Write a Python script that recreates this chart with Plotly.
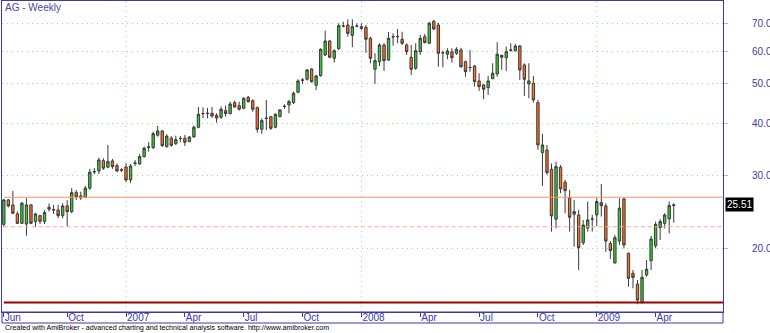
import math
import pandas as pd
import plotly.graph_objects as go

# ---------------- data (weekly bars, AG) ----------------
first_week = "2006-06-30"
n_weeks = 149

opens = [22.90, 26.23, 25.51, 24.27, 23.03, 22.94, 25.51, 23.25, 24.04, 23.28,
         25.19, 24.88, 24.81, 24.04, 25.37, 24.58, 27.31, 26.82, 26.60, 28.00,
         30.73, 30.82, 32.63, 31.46, 32.58, 31.74, 30.99, 31.50, 29.31, 32.12,
         32.04, 33.37, 35.11, 35.07, 37.58, 38.48, 35.27, 36.96, 35.86, 36.92,
         36.96, 36.27, 37.22, 39.28, 42.36, 42.36, 42.46, 41.99, 41.52, 43.08,
         42.36, 45.03, 44.29, 43.65, 46.41, 45.54, 43.80, 38.85, 41.24, 41.67,
         39.28, 41.67, 44.09, 44.46, 45.04, 47.71, 51.09, 51.29, 54.31, 49.61,
         52.32, 58.70, 63.44, 57.63, 60.79, 68.96, 69.34, 65.48, 68.96, 68.68,
         68.45, 64.40, 54.22, 56.55, 62.05, 57.09, 64.98, 64.98, 64.05, 62.05,
         57.95, 54.52, 59.78, 64.98, 62.65, 70.79, 69.34, 59.46, 58.93, 59.78,
         59.26, 60.35, 56.55, 54.80, 55.22, 50.81, 49.69, 48.94, 51.46, 52.82,
         58.60, 57.82, 60.35, 60.11, 61.70, 55.53, 49.97, 50.16, 45.04, 34.12,
         34.63, 31.11, 23.56, 31.46, 28.94, 26.57, 24.23, 24.13, 20.67, 22.43,
         23.60, 24.13, 25.84, 25.37, 20.60, 18.48, 20.87, 26.38, 19.50, 17.45,
         16.44, 14.82, 17.28, 18.71, 20.34, 22.50, 23.03, 23.60, 25.41]

highs = [26.38, 26.38, 27.58, 24.61, 25.95, 26.48, 25.65, 24.40, 24.13, 24.81,
         25.75, 25.51, 25.51, 25.75, 26.23, 28.00, 27.73, 27.47, 28.35, 31.16,
         31.29, 33.18, 33.07, 35.60, 32.94, 32.12, 31.29, 32.20, 32.04, 32.76,
         33.81, 35.27, 36.14, 38.34, 39.57, 38.70, 37.79, 37.37, 37.50, 37.43,
         37.64, 37.37, 39.63, 43.96, 43.86, 43.71, 43.96, 42.46, 44.09, 44.29,
         45.29, 45.54, 45.29, 46.41, 46.74, 45.89, 44.09, 41.29, 45.72, 41.83,
         42.46, 43.42, 44.63, 45.72, 47.88, 51.29, 51.58, 54.31, 54.52, 52.53,
         60.93, 67.18, 63.80, 60.59, 70.00, 70.62, 71.54, 71.54, 70.00, 70.00,
         69.34, 64.98, 59.26, 62.65, 62.65, 66.71, 66.20, 67.82, 66.80, 62.65,
         62.05, 62.65, 65.59, 65.96, 70.62, 71.30, 70.23, 60.11, 60.93, 60.93,
         61.28, 61.04, 56.87, 60.35, 55.53, 53.03, 49.97, 52.24, 56.06, 63.00,
         58.70, 61.48, 62.65, 62.40, 62.05, 56.06, 56.06, 52.24, 45.72, 37.86,
         35.60, 32.12, 32.45, 31.86, 29.31, 27.73, 26.23, 24.81, 23.47, 25.99,
         24.13, 26.48, 28.67, 25.75, 20.87, 21.58, 26.48, 26.48, 19.57, 17.77,
         16.81, 17.77, 18.78, 21.46, 23.25, 23.56, 24.36, 25.99, 25.75]

lows = [22.60, 25.16, 24.23, 22.94, 22.94, 21.50, 22.94, 22.52, 22.94, 22.94,
        24.58, 24.27, 23.69, 23.69, 22.60, 24.36, 26.23, 26.23, 26.48, 27.73,
        30.31, 30.31, 30.99, 31.29, 31.16, 30.60, 30.65, 28.99, 28.83, 31.68,
        31.86, 33.18, 34.30, 34.82, 37.29, 35.21, 35.07, 35.27, 35.60, 36.14,
        35.40, 36.14, 37.08, 39.06, 41.29, 41.29, 41.43, 40.30, 41.13, 41.67,
        42.22, 43.80, 43.08, 43.42, 45.04, 42.84, 38.13, 37.86, 38.70, 38.70,
        39.06, 41.52, 43.49, 42.46, 44.71, 47.45, 49.97, 50.89, 50.33, 48.33,
        52.03, 58.37, 57.63, 56.26, 60.35, 68.45, 64.98, 61.28, 68.45, 67.44,
        59.40, 56.06, 50.00, 55.22, 53.71, 56.77, 61.81, 62.65, 62.05, 58.70,
        52.53, 54.01, 58.70, 62.65, 62.40, 67.44, 55.00, 54.80, 57.31, 56.26,
        58.70, 54.62, 52.03, 53.50, 49.22, 48.06, 45.90, 47.00, 51.29, 52.03,
        54.01, 53.71, 59.78, 59.78, 51.09, 46.74, 46.15, 45.04, 34.63, 28.35,
        30.14, 21.99, 22.40, 27.23, 24.36, 21.99, 20.22, 17.77, 20.42, 21.99,
        21.99, 22.69, 23.91, 19.67, 18.91, 18.43, 20.42, 20.04, 16.20, 16.05,
        14.69, 14.76, 17.12, 17.77, 20.04, 20.99, 22.40, 21.79, 23.12]

closes = [26.23, 25.37, 24.36, 23.03, 25.75, 25.51, 23.03, 24.27, 23.30, 24.47,
          24.91, 24.81, 24.04, 25.37, 24.58, 27.31, 26.67, 26.53, 28.00, 30.60,
          30.65, 32.76, 31.29, 32.45, 31.56, 30.82, 30.94, 29.31, 31.68, 32.21,
          33.37, 34.96, 35.21, 37.91, 38.48, 35.46, 37.37, 35.54, 36.67, 36.88,
          36.14, 37.22, 39.28, 42.22, 42.41, 42.46, 41.83, 41.36, 43.42, 42.36,
          44.71, 43.96, 43.42, 46.15, 45.29, 43.42, 38.85, 40.75, 41.29, 39.06,
          42.22, 43.25, 44.14, 45.29, 47.45, 50.81, 51.03, 54.01, 50.61, 52.24,
          60.59, 63.44, 57.95, 60.11, 69.07, 68.88, 66.20, 68.68, 68.88, 68.08,
          64.05, 57.63, 56.87, 62.05, 56.87, 64.40, 64.91, 65.05, 62.65, 59.78,
          54.22, 60.11, 64.40, 62.86, 70.00, 67.82, 59.26, 59.40, 60.01, 57.82,
          60.59, 55.00, 53.50, 54.74, 50.61, 49.22, 48.52, 50.81, 53.03, 58.93,
          57.95, 59.78, 60.28, 61.70, 54.01, 51.29, 50.81, 45.72, 35.60, 35.60,
          30.53, 23.99, 31.56, 27.89, 27.62, 23.82, 24.58, 20.11, 22.81, 23.47,
          23.57, 25.99, 25.41, 20.87, 19.78, 21.26, 25.05, 20.42, 16.97, 17.06,
          15.04, 17.06, 17.84, 21.11, 22.90, 23.25, 24.13, 25.41, 25.51]

# horizontal study lines
resistance_level = 26.62
support_level = 22.60
floor_level = 14.83
last_price_label = "25.51"

# axis ticks
x_tick_dates = ["2006-06-30", "2006-10-06", "2007-01-05", "2007-04-06", "2007-07-06",
                "2007-10-05", "2008-01-04", "2008-04-04", "2008-07-04", "2008-10-03",
                "2009-01-02", "2009-04-03"]
x_tick_labels = ["Jun", "Oct", "2007", "Apr", "Jul", "Oct", "2008", "Apr", "Jul", "Oct",
                 "2009", "Apr"]
year_dates = ["2007-01-05", "2008-01-04", "2009-01-02"]
y_tick_vals = [20, 30, 40, 50, 60, 70]
y_tick_labels = ["20.0", "30.0", "40.0", "50.0", "60.0", "70.0"]

# ---------------- styling ----------------
BLUE = "#3b3ba8"
GRID = "#8fdc8f"
GREEN = "#33cc33"
ORANGE = "#ff6a22"
EDGE = "#3a3a3a"
FONT = "Liberation Sans, Arial, sans-serif"

x_start = "2006-06-27 05:00"
x_end = "2009-07-16 05:00"

dates = pd.date_range(first_week, periods=n_weeks, freq="W-FRI")

fig = go.Figure()

fig.add_trace(go.Candlestick(
    x=dates, open=opens, high=highs, low=lows, close=closes,
    increasing=dict(fillcolor=GREEN, line=dict(color=EDGE, width=1)),
    decreasing=dict(fillcolor=ORANGE, line=dict(color=EDGE, width=1)),
    whiskerwidth=0, showlegend=False, hoverinfo="skip",
))

line_x = [dates[0], pd.Timestamp(x_end)]
fig.add_trace(go.Scatter(x=line_x, y=[resistance_level] * 2, mode="lines",
                         line=dict(color="#ff9466", width=1), showlegend=False, hoverinfo="skip"))
fig.add_trace(go.Scatter(x=line_x, y=[support_level] * 2, mode="lines",
                         line=dict(color="#ffab8c", width=1, dash="4px,3px"),
                         showlegend=False, hoverinfo="skip"))
fig.add_trace(go.Scatter(x=line_x, y=[floor_level] * 2, mode="lines",
                         line=dict(color="#9c0000", width=2), showlegend=False, hoverinfo="skip"))

shapes = []
for d in year_dates:
    shapes.append(dict(type="line", xref="x", yref="paper", x0=d, x1=d, y0=0, y1=1,
                       line=dict(color=GRID, width=1, dash="1px,4px"), layer="below"))
# x-label box under the plot
plot_h = 333 - 1 - 21
shapes.append(dict(type="rect", xref="paper", yref="paper", x0=0, x1=1,
                   y0=-11 / plot_h, y1=0, line=dict(color=BLUE, width=1)))

annotations = [
    dict(text="AG - Weekly", xref="paper", yref="paper", x=0, y=1, xanchor="left",
         yanchor="top", xshift=1, yshift=1, showarrow=False,
         font=dict(family=FONT, size=10, color="#4848a8")),
    dict(text="Created with AmiBroker - advanced charting and technical analysis software. http://www.amibroker.com",
         xref="paper", yref="paper", x=0, y=-(328 - 312) / plot_h, xanchor="left",
         yanchor="middle", xshift=1, showarrow=False,
         font=dict(family=FONT, size=7.1, color="#000000")),
    dict(text=last_price_label, xref="paper", yref="y", x=1, y=math.log10(closes[-1]),
         xanchor="left", yanchor="middle", xshift=2, showarrow=False,
         bgcolor="#000000", borderpad=1, font=dict(family=FONT, size=10, color="#ffffff")),
]

fig.update_layout(
    width=770, height=333,
    margin=dict(l=2, r=47, t=1, b=21),
    paper_bgcolor="white", plot_bgcolor="white",
    showlegend=False,
    shapes=shapes, annotations=annotations,
    boxgap=0.25,
    xaxis=dict(
        type="date", range=[x_start, x_end], automargin=False,
        tickvals=x_tick_dates, ticktext=x_tick_labels,
        ticks="outside", ticklen=4, tickcolor=BLUE, tickwidth=1,
        ticklabelposition="outside right",
        ticklabelstandoff=-4,
        tickfont=dict(family=FONT, size=10, color=BLUE),
        showline=True, linecolor=BLUE, linewidth=1, mirror=True,
        showgrid=False, zeroline=False,
        rangeslider=dict(visible=False),
    ),
    yaxis=dict(
        type="log", side="right", automargin=False,
        range=[math.log10(14.07), math.log10(79.23)],
        tickvals=y_tick_vals, ticktext=y_tick_labels,
        ticks="outside", ticklen=4, tickcolor=GRID, tickwidth=1,
        ticklabelstandoff=22,
        tickfont=dict(family=FONT, size=10, color=BLUE),
        showline=True, linecolor=BLUE, linewidth=1, mirror=True,
        showgrid=True, gridcolor=GRID, gridwidth=1, griddash="1px,4px",
        zeroline=False,
    ),
)

fig.write_html("out.html")
